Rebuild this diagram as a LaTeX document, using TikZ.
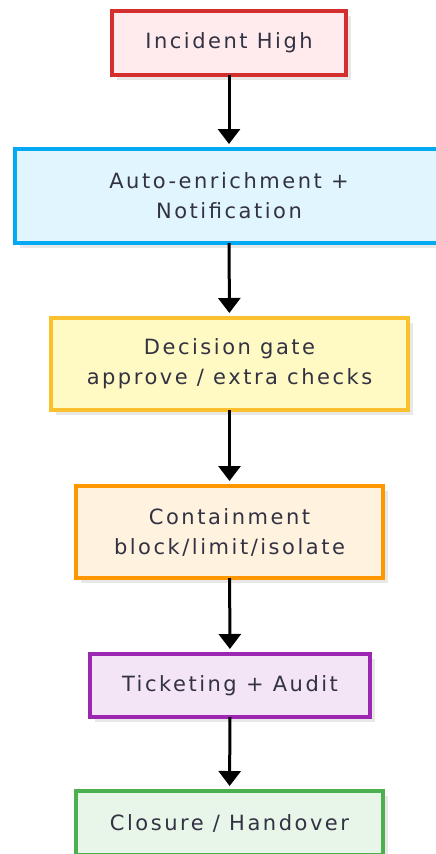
\documentclass[tikz,border=0pt]{standalone}
\usepackage{fontspec}
\setmainfont{DejaVu Sans}[LetterSpace=12]
\usetikzlibrary{arrows.meta,shadows}
\definecolor{inkdark}{RGB}{50,50,66}
\definecolor{redline}{RGB}{211,47,47}\definecolor{redfill}{RGB}{255,235,238}
\definecolor{blueline}{RGB}{3,169,244}\definecolor{bluefill}{RGB}{225,245,254}
\definecolor{yelline}{RGB}{251,192,45}\definecolor{yelfill}{RGB}{255,249,196}
\definecolor{orline}{RGB}{255,152,0}\definecolor{orfill}{RGB}{255,243,224}
\definecolor{puline}{RGB}{156,39,176}\definecolor{pufill}{RGB}{243,229,245}
\definecolor{grline}{RGB}{76,175,80}\definecolor{grfill}{RGB}{232,245,233}
\tikzset{
  stepbox/.style={draw, line width=4pt, inner sep=0pt, outer sep=0pt,
    align=center, text=inkdark, font=\fontsize{21}{30}\selectfont,
    drop shadow={shadow xshift=5pt, shadow yshift=-5pt, fill=black!9, opacity=1}},
  flow/.style={line width=3pt, -{Triangle[width=22pt,length=15pt]},
    shorten >=5pt}
}
\begin{document}
\begin{tikzpicture}[x=1pt,y=-1pt]
\useasboundingbox (0,0) rectangle (436,854);
\node[stepbox, draw=redline, fill=redfill, minimum width=234pt, minimum height=64pt]
  (incident) at (229,43) {Incident High};
\node[stepbox, draw=blueline, fill=bluefill, minimum width=428pt, minimum height=94pt]
  (enrich) at (229,196) {Auto-enrichment +\\Notification};
\node[stepbox, draw=yelline, fill=yelfill, minimum width=357pt, minimum height=92pt]
  (gate) at (229.5,364) {Decision gate\\approve / extra checks};
\node[stepbox, draw=orline, fill=orfill, minimum width=307pt, minimum height=92pt]
  (contain) at (229.5,532) {Containment\\block/limit/isolate};
\node[stepbox, draw=puline, fill=pufill, minimum width=280pt, minimum height=63pt]
  (ticket) at (230,685.5) {Ticketing + Audit};
\node[stepbox, draw=grline, fill=grfill, minimum width=307pt, minimum height=64pt]
  (closure) at (229.5,823) {Closure / Handover};
\draw[flow] (incident) -- (enrich);
\draw[flow] (enrich) -- (gate);
\draw[flow] (gate) -- (contain);
\draw[flow] (contain) -- (ticket);
\draw[flow] (ticket) -- (closure);
\end{tikzpicture}
\end{document}
